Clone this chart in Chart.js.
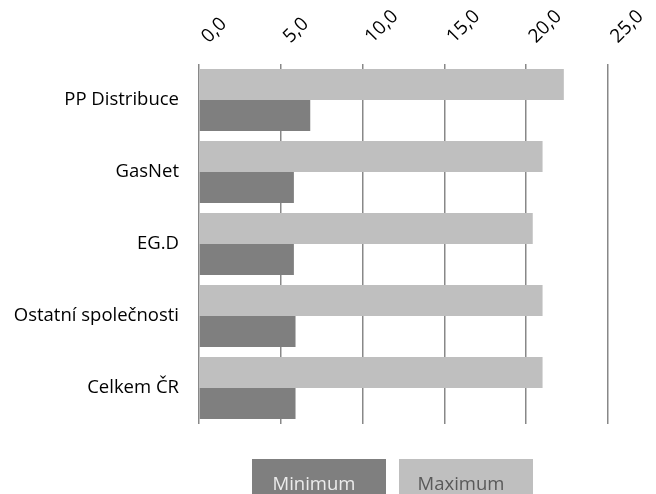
<!DOCTYPE html>
<html>
<head>
<meta charset="utf-8">
<script src="https://cdn.jsdelivr.net/npm/chart.js@4.4.0/dist/chart.umd.min.js"></script>
<style>
  body { margin: 0; background: #fff; }
  #wrap { width: 656px; height: 494px; }
</style>
</head>
<body>
<div id="wrap"><canvas id="chart" width="656" height="494"></canvas></div>
<script>
const categories = ['PP Distribuce', 'GasNet', 'EG.D', 'Ostatní společnosti', 'Celkem ČR'];
const minimumValues = [6.8, 5.8, 5.8, 5.9, 5.9];
const maximumValues = [22.3, 21.0, 20.4, 21.0, 21.0];
const xTicks = [0, 5, 10, 15, 20, 25];

const FONT = "'Open Sans', sans-serif";
const DARK = '#7f7f7f';
const LIGHT = '#bfbfbf';

// legend drawn as filled boxes with the label inside, like the original
const boxLegend = {
    id: 'boxLegend',
    afterDraw(chart) {
        const ctx = chart.ctx;
        const items = [
            { text: 'Minimum', fill: DARK, color: '#ececec' },
            { text: 'Maximum', fill: LIGHT, color: '#595959' }
        ];
        const w = 134, gap = 13, top = 459, h = 40;
        let x = 252;
        ctx.save();
        ctx.font = '18.5px ' + FONT;
        ctx.textBaseline = 'alphabetic';
        ctx.textAlign = 'center';
        items.forEach(it => {
            ctx.fillStyle = it.fill;
            ctx.fillRect(x, top, w, h);
            ctx.fillStyle = it.color;
            ctx.fillText(it.text, x + w / 2 - 5, 490);
            x += w + gap;
        });
        ctx.restore();
    }
};

new Chart(document.getElementById('chart'), {
    type: 'bar',
    data: {
        labels: categories,
        datasets: [
            { label: 'Maximum', data: maximumValues, backgroundColor: LIGHT,
              categoryPercentage: 0.86, barPercentage: 1.0 },
            { label: 'Minimum', data: minimumValues, backgroundColor: DARK,
              categoryPercentage: 0.86, barPercentage: 1.0 }
        ]
    },
    options: {
        indexAxis: 'y',
        responsive: false,
        animation: false,
        layout: { padding: { left: 0, right: 48, top: 0, bottom: 70 } },
        plugins: {
            legend: { display: false },
            tooltip: { enabled: false }
        },
        scales: {
            x: {
                position: 'top',
                min: 0,
                max: 25,
                afterBuildTicks: axis => { axis.ticks = xTicks.map(v => ({ value: v })); },
                afterFit: axis => { axis.height = 64; },
                grid: { color: '#888888', lineWidth: 1.5, drawTicks: false },
                border: { display: false },
                ticks: {
                    minRotation: 45,
                    maxRotation: 45,
                    autoSkip: false,
                    padding: 16,
                    labelOffset: 22,
                    color: '#000',
                    font: { family: FONT, size: 19 },
                    callback: v => v.toFixed(1).replace('.', ',')
                }
            },
            y: {
                afterFit: axis => { axis.width = 199; },
                grid: { display: false, drawTicks: false },
                border: { display: false },
                ticks: {
                    padding: 20,
                    color: '#000',
                    font: { family: FONT, size: 18.5 }
                }
            }
        }
    },
    plugins: [boxLegend]
});
</script>
</body>
</html>
